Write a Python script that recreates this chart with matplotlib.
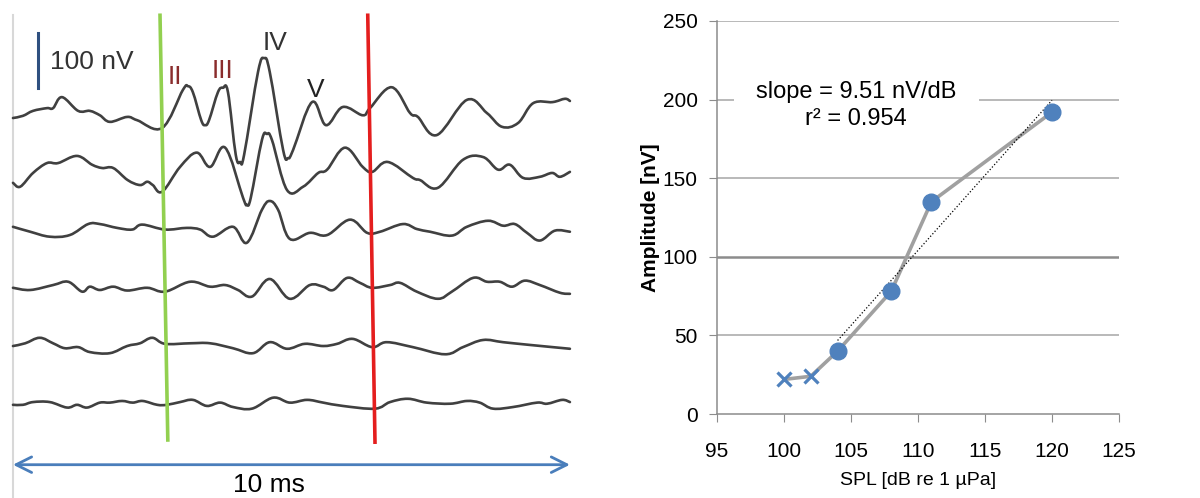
import matplotlib
matplotlib.use('Agg')
import matplotlib.pyplot as plt
from matplotlib.path import Path
from matplotlib.patches import PathPatch
import numpy as np

plt.rcParams['font.family'] = ['Liberation Sans', 'DejaVu Sans']

# ---- left panel: ABR traces (time in ms, amplitude in nV) ----
t1 = [0.00, 0.18, 0.36, 0.61, 0.72, 0.88, 1.17, 1.38, 1.56, 1.74, 2.05, 2.23, 2.68, 3.05, 3.14, 3.23,
      3.38, 3.45, 3.52, 3.68, 3.77, 3.86, 4.00, 4.08, 4.15, 4.40, 4.51, 4.61, 4.85, 4.94, 5.03, 5.37,
      5.62, 5.92, 6.28, 6.41, 6.80, 7.13, 7.27, 7.61, 8.15, 8.51, 8.78, 9.07, 9.34, 9.69, 9.91, 10.00]
a1 = [0, 4, 13, 18, 18, 38, 13, 13, 5, -7, 2, -4, -18, 51, 58, 47,
      -4, -13, -4, 47, 55, 47, -67, -80, -67, 84, 109, 84, -58, -73, -58, 29,
      -13, 20, 5, 18, 56, 9, 2, -31, 33, 9, -16, -9, 27, 29, 35, 31]

t2 = [0.00, 0.13, 0.36, 0.61, 0.81, 1.15, 1.42, 1.60, 1.80, 2.06, 2.28, 2.41, 2.51, 2.68, 3.00, 3.30,
      3.54, 3.81, 4.13, 4.20, 4.27, 4.47, 4.56, 4.65, 4.92, 5.21, 5.48, 5.64, 5.96, 6.28, 6.45, 6.73,
      7.18, 7.31, 7.63, 8.08, 8.44, 8.71, 8.92, 9.16, 9.46, 9.68, 9.82, 10.00]
a2 = [0, -7, 18, 36, 36, 49, 33, 27, 27, 5, -4, 2, -4, -16, 29, 55,
      29, 64, -27, -40, -27, 78, 89, 78, -13, -7, 18, 24, 64, 29, 20, 38,
      9, 5, -9, 42, 47, 24, 33, 9, 11, 18, 11, 20]

t3 = [0.00, 0.31, 0.66, 1.02, 1.35, 1.56, 1.87, 2.14, 2.32, 2.73, 3.12, 3.36, 3.59, 3.95, 4.20, 4.47,
      4.61, 4.76, 4.97, 5.33, 5.64, 6.05, 6.36, 6.59, 7.00, 7.25, 7.49, 7.88, 8.15, 8.53, 8.80, 9.01,
      9.23, 9.46, 9.73, 10.00]
a3 = [0, -9, -18, -15, 5, 5, -2, -5, 4, -5, -2, -5, -18, 0, -29, 31,
      47, 31, -22, -11, -15, 13, -11, -9, 5, -4, -9, -16, 0, 11, 2, 5,
      -11, -25, -7, -9]

t4 = [0.00, 0.31, 0.72, 0.99, 1.24, 1.38, 1.56, 1.80, 2.05, 2.41, 2.73, 3.18, 3.54, 3.81, 4.04, 4.29,
      4.61, 4.97, 5.33, 5.57, 5.75, 6.00, 6.23, 6.45, 6.77, 6.95, 7.25, 7.63, 7.88, 8.26, 8.51, 8.74,
      8.96, 9.19, 9.46, 9.82, 10.00]
a4 = [0, -4, 5, 11, -7, 2, -4, 2, -5, 0, -7, 11, 2, 5, -4, -16,
      16, -20, 5, 2, -4, 18, 9, 0, 5, 9, -7, -20, -7, 18, 11, 11,
      2, 13, 5, -9, -11]

t5 = [0.00, 0.22, 0.48, 0.72, 0.93, 1.17, 1.38, 1.74, 2.05, 2.28, 2.50, 2.73, 3.18, 3.54, 3.95, 4.31,
      4.61, 4.92, 5.24, 5.57, 5.82, 6.10, 6.45, 6.71, 7.18, 7.76, 8.08, 8.44, 8.80, 9.28, 10.00]
a5 = [0, 5, 15, 5, -4, -2, -11, -13, 0, 5, 15, 4, 5, 5, -4, -13,
      7, -5, 4, 0, 4, 13, -2, 7, -2, -15, -2, 11, 7, 2, -5]

t6 = [0.00, 0.18, 0.36, 0.66, 0.97, 1.15, 1.33, 1.56, 1.74, 1.96, 2.15, 2.33, 2.59, 2.76, 3.00, 3.23,
      3.48, 3.72, 3.95, 4.29, 4.67, 4.97, 5.28, 5.57, 5.92, 6.50, 6.77, 7.09, 7.43, 7.85, 8.15, 8.38,
      8.62, 8.98, 9.41, 9.59, 9.86, 10.00]
a6 = [0, 0, 5, 5, -5, 0, -5, 4, 4, 7, 4, 7, 0, 0, 5, 9,
      -2, 4, -4, -7, 13, 4, 9, 4, -2, -7, 5, 11, 4, 2, 7, 4,
      -7, -4, 4, 2, 9, 5]

trace_t = [t1, t2, t3, t4, t5, t6]
trace_a = [a1, a2, a3, a4, a5, a6]
trace_offset = [0, -118, -198, -309, -415, -522]   # nV, vertical stacking

wave_labels = ['II', 'III', 'IV', 'V']
wave_label_t = [2.91, 3.77, 4.70, 5.44]
wave_label_a = [75, 86, 137, 51]
wave_label_c = ['#8a2c2c', '#8a2c2c', '#333333', '#222222']

# ---- right panel: amplitude vs SPL ----
spl = [100, 102, 104, 108, 111, 120]
amp = [22, 24, 40, 78, 135, 192]
detected = [False, False, True, True, True, True]
slope_txt = 'slope = 9.51 nV/dB'
r2_txt = 'r\u00b2 = 0.954'


def smooth_path(x, y, k=0.18):
    """ bezier path through the given vertices (drawing only, vertices unchanged) """
    x = np.asarray(x, float)
    y = np.asarray(y, float)
    verts = [(x[0], y[0])]
    codes = [Path.MOVETO]
    n = len(x)
    for i in range(n - 1):
        i0, i3 = max(i - 1, 0), min(i + 2, n - 1)
        c1 = (x[i] + k * (x[i + 1] - x[i0]), y[i] + k * (y[i + 1] - y[i0]))
        c2 = (x[i + 1] - k * (x[i3] - x[i]), y[i + 1] - k * (y[i3] - y[i]))
        verts += [c1, c2, (x[i + 1], y[i + 1])]
        codes += [Path.CURVE4] * 3
    return Path(verts, codes)


fig = plt.figure(figsize=(12, 4.98), dpi=100)

# left panel
ax = fig.add_axes([0, 0, 0.5, 1])
for t, a, off in zip(trace_t, trace_a, trace_offset):
    p = smooth_path(t, np.array(a) + off)
    ax.add_patch(PathPatch(p, fc='none', ec='#404040', lw=1.9, capstyle='round',
                           joinstyle='round', zorder=3))

ax.plot([0, 0], [187, -700], c='#d8d8d8', lw=1.5, zorder=1)
ax.plot([2.64, 2.78], [187, -586], c='#92d050', lw=2.6, zorder=4)
ax.plot([6.37, 6.50], [187, -590], c='#e41e1e', lw=2.6, zorder=4)
ax.plot([0.45, 0.45], [55, 155], c='#2f5080', lw=2.2)
ax.text(0.66, 102, '100 nV', fontsize=19, color='#333333', va='center', ha='left')
for lab, lt, la, lc in zip(wave_labels, wave_label_t, wave_label_a, wave_label_c):
    ax.text(lt, la, lab, fontsize=19, color=lc, ha='center', va='center')

ax.annotate('', xy=(10, -631), xytext=(0, -631),
            arrowprops=dict(arrowstyle='<->', color='#4a7ebb', lw=2,
                            mutation_scale=28, shrinkA=0, shrinkB=0))
ax.text(4.60, -668, '10 ms', fontsize=19, ha='center', va='center')

ax.set_xlim(-0.233, 10.54)
ax.set_ylim(-691.6, 214.8)
ax.axis('off')

# right panel
ax2 = fig.add_axes([717/1200, 84/498, 402/1200, 393/498])
ax2.set_xlim(95, 125)
ax2.set_ylim(0, 250)
for yv in [50, 150, 200, 250]:
    ax2.axhline(yv, c='#a6a6a6', lw=1.1, zorder=0)
ax2.axhline(100, c='#8c8c8c', lw=1.8, zorder=0)

ax2.plot(spl, amp, c='#a0a0a0', lw=2.6, zorder=2)
x_det = [s for s, d in zip(spl, detected) if d]
y_det = [v for v, d in zip(amp, detected) if d]
x_nd = [s for s, d in zip(spl, detected) if not d]
y_nd = [v for v, d in zip(amp, detected) if not d]
ax2.plot(x_det, y_det, 'o', ms=12, c='#4f81bd', zorder=4)
ax2.plot(x_nd, y_nd, 'x', ms=10, mew=2.3, c='#4f81bd', zorder=4)

fit = np.polyfit(x_det, y_det, 1)
xf = np.array([min(x_det), max(x_det)])
ax2.plot(xf, np.polyval(fit, xf), c='k', ls=':', lw=0.9, zorder=3)

ax2.text(105.4, 196, slope_txt + '\n' + r2_txt, fontsize=17, ha='center', va='center',
         linespacing=1.3, zorder=1,
         bbox=dict(fc='white', ec='none', pad=16))

for s in ['top', 'right']:
    ax2.spines[s].set_visible(False)
for s in ['left', 'bottom']:
    ax2.spines[s].set_color('#8c8c8c')
    ax2.spines[s].set_linewidth(1.1)
ax2.set_xticks([95, 100, 105, 110, 115, 120, 125])
ax2.set_yticks([0, 50, 100, 150, 200, 250])
ax2.tick_params(direction='out', length=6, color='#8c8c8c', labelsize=15)
ax2.tick_params(axis='x', pad=14)
ax2.tick_params(axis='y', pad=8)
ax2.set_xlabel('SPL [dB re 1 \u00b5Pa]', fontsize=14, labelpad=8)
ax2.set_ylabel('Amplitude [nV]', fontsize=15, fontweight='bold', labelpad=2)

plt.savefig('out.png', dpi=100)
